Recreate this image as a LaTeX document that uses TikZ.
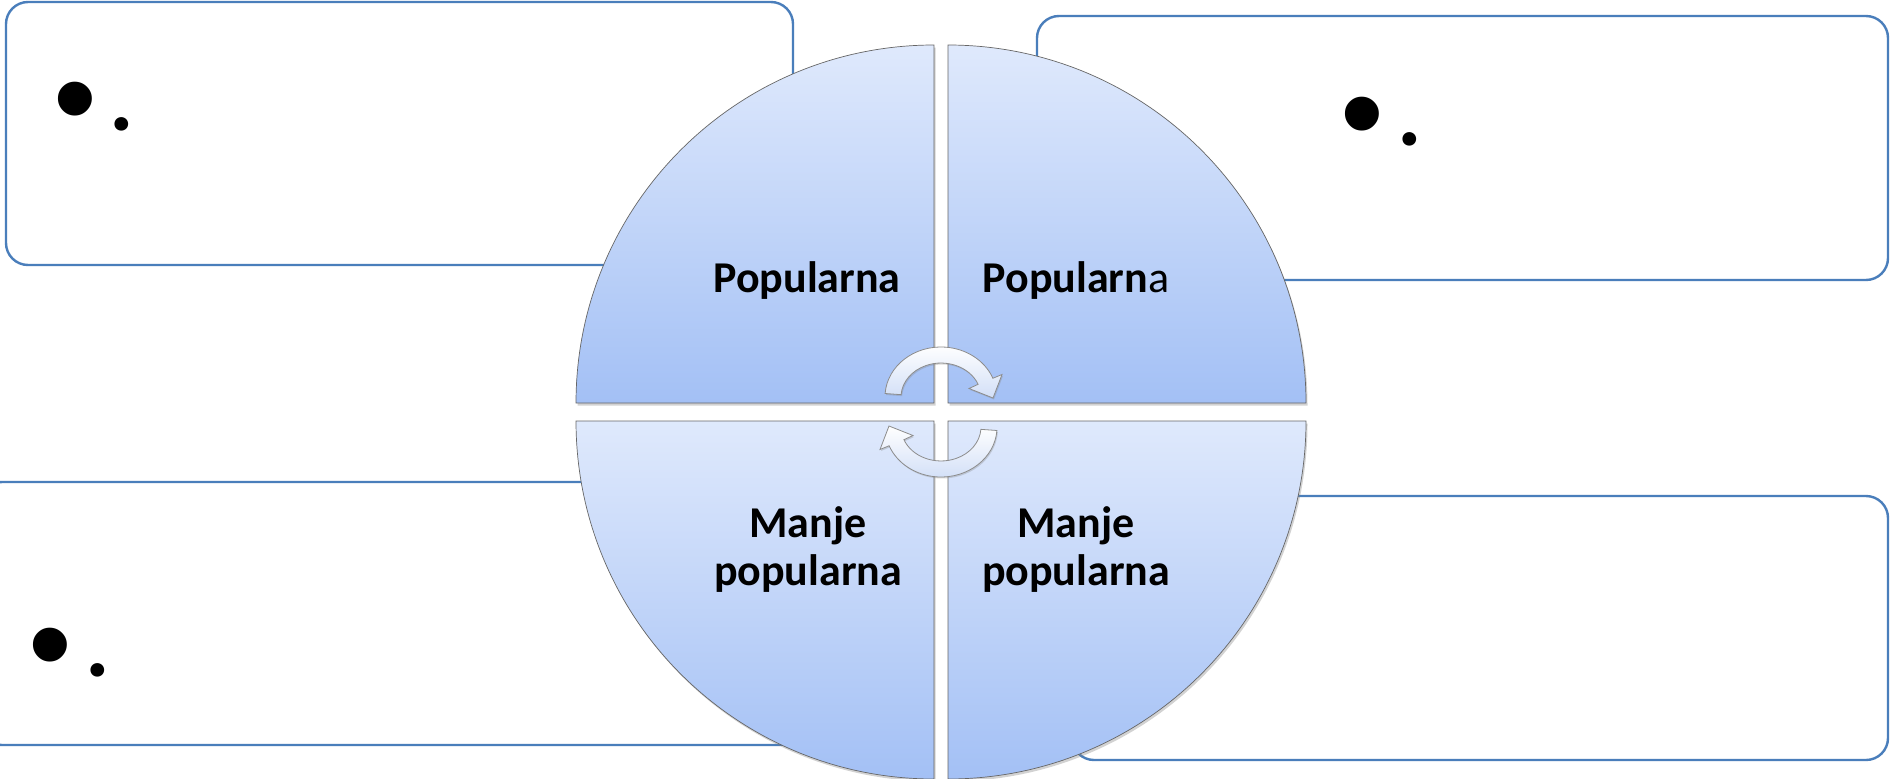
\documentclass[tikz,border=0pt]{standalone}
\usepackage{fontspec}
\setmainfont{Carlito}
\newfontfamily\arialf{Liberation Sans}
\usetikzlibrary{shadows}
\definecolor{boxblue}{HTML}{4A7EBB}
\definecolor{qtop}{HTML}{DFE9FC}
\definecolor{qbot}{HTML}{A3C0F5}
\definecolor{arrbot}{HTML}{D2DFF7}
\begin{document}
\begin{tikzpicture}[x=1pt,y=-1pt,
  infobox/.style={draw=boxblue, line width=2.4pt, rounded corners=22pt, fill=white},
  quarter/.style={top color=qtop, bottom color=qbot, draw=black!60, line width=0.7pt,
    drop shadow={shadow xshift=1.5pt, shadow yshift=-2.5pt, opacity=0.35}},
  lbl/.style={font=\bfseries\fontsize{44}{48}\selectfont, inner sep=0pt},
  cyc/.style={top color=white, bottom color=arrbot, draw=black!45, line width=0.8pt,
    drop shadow={shadow xshift=1pt, shadow yshift=-1.5pt, opacity=0.3}},
  bul/.style={font=\arialf\fontsize{125}{125}\selectfont, inner sep=0pt, anchor=north},
  dotc/.style={font=\bfseries\fontsize{92}{92}\selectfont, inner sep=0pt, anchor=north}]
\useasboundingbox (0,0) rectangle (1890,779);
\clip (0,0) rectangle (1890,779);
\fill[white] (0,0) rectangle (1890,779);
% text boxes
\draw[infobox] (6,2) rectangle (793,265);
\draw[infobox] (1037,16) rectangle (1888,280);
\draw[infobox] (-20,482) rectangle (800,745);
\draw[infobox] (1072,496) rectangle (1888,760);
% bullets
\node[bul] (b1) at (75,82) {•};
\node[dotc] (d1) at (122,117) {.};
\node[bul] (b2) at (1362,97) {•};
\node[dotc] (d2) at (1410,132) {.};
\node[bul] (b3) at (50,628) {•};
\node[dotc] (d3) at (98,663) {.};
% quarters
\path[quarter] (934,403) -- (576,403) arc[start angle=180, end angle=270, radius=358] -- cycle;
\path[quarter] (948,403) -- (948,45) arc[start angle=270, end angle=360, radius=358] -- cycle;
\path[quarter] (934,421) -- (576,421) arc[start angle=180, end angle=90, radius=358] -- cycle;
\path[quarter] (948,421) -- (1306,421) arc[start angle=0, end angle=90, radius=358] -- cycle;
% labels
\node[lbl, anchor=base] (p1) at (807,292) {Popularna};
\node[lbl, anchor=base] (p2) at (1076,292) {Popularn\textmd{a}};
\node[lbl, anchor=base, align=center] (m1) at (808,585) {Manje\\popularna};
\node[lbl, anchor=base, align=center] (m2) at (1076,585) {Manje\\popularna};
% cycle arrows
\path[cyc] (885.1,393.5) arc[start angle=184, end angle=338, x radius=56, y radius=50]
  -- (1002,374.5) -- (993,398) -- (969,388.5) -- (978.1,384.3)
  arc[start angle=338, end angle=184, x radius=40, y radius=34] -- cycle;
\begin{scope}[rotate around={180:(941,412)}]
\path[cyc] (885.1,393.5) arc[start angle=184, end angle=338, x radius=56, y radius=50]
  -- (1002,374.5) -- (993,398) -- (969,388.5) -- (978.1,384.3)
  arc[start angle=338, end angle=184, x radius=40, y radius=34] -- cycle;
\end{scope}
\end{tikzpicture}
\end{document}
